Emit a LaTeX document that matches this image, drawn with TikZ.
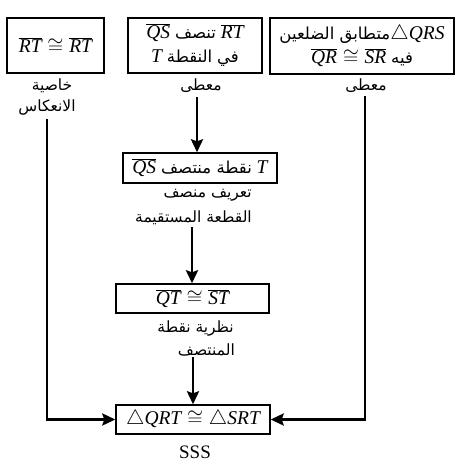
\documentclass[tikz,border=0pt]{standalone}
\usepackage{fontspec}
\setmainfont{Liberation Serif}
\newfontfamily\arfont[Script=Arabic]{DejaVu Sans}
\TeXXeTstate=1
\usetikzlibrary{arrows.meta}
\newcommand\ar[1]{{\fontsize{16.5}{24}\selectfont\arfont\beginR #1\endR}}
\newcommand\sgm[1]{\overline{\mathit{#1}}}
\tikzset{
  box/.style={draw, line width=1.4pt, inner sep=0pt, font=\fontsize{19.5}{25}\selectfont, align=center},
  lbl/.style={inner sep=0pt, font=\fontsize{15.5}{20}\selectfont\arfont},
  arr/.style={line width=2.6pt, -{Stealth[length=13pt,width=12pt,inset=2pt]}}
}
\begin{document}
\begin{tikzpicture}[x=1pt,y=-1pt]
\useasboundingbox (0,0) rectangle (469,461);
% boxes
\node[box, minimum width=97pt, minimum height=55pt] (b1) at (55.5,45.5) {$\sgm{RT}\cong\sgm{RT}$};
\node[box, minimum width=134pt, minimum height=55pt] (b2) at (195,45.5)
  {$\sgm{QS}$ \ar{تنصف} $\sgm{RT}$\\[-1pt] $\mathit{T}$ \ar{النقطة} \ar{في}};
\node[box, minimum width=184pt, minimum height=56pt] (b3) at (362,46)
  {\ar{متطابق الضلعين}$\triangle\mathit{QRS}$\\[-1pt] $\sgm{QR}\cong\sgm{SR}$ \ar{فيه}};
\node[box, minimum width=154pt, minimum height=30pt] (b4) at (200,168)
  {$\sgm{QS}$ \ar{نقطة منتصف} $\mathit{T}$};
\node[box, minimum width=153pt, minimum height=29pt] (b5) at (192.5,298.5)
  {$\sgm{QT}\cong\sgm{ST}$};
\node[box, minimum width=154pt, minimum height=29pt] (b6) at (193,419.5)
  {$\triangle\mathit{QRT}\cong\triangle\mathit{SRT}$};
% labels
\node[lbl] (l1a) at (52,86) {\beginR خاصية\endR};
\node[lbl] (l1b) at (47,108) {\beginR الانعكاس\endR};
\node[lbl] (l2) at (201,86) {\beginR معطى\endR};
\node[lbl] (l3) at (366,86) {\beginR معطى\endR};
\node[lbl, anchor=east] (l4a) at (252,195) {\beginR تعريف منصف\endR};
\node[lbl, anchor=east] (l4b) at (252,218) {\beginR القطعة المستقيمة\endR};
\node[lbl, anchor=east] (l5a) at (234,328) {\beginR نظرية نقطة\endR};
\node[lbl, anchor=east] (l5b) at (235,350) {\beginR المنتصف\endR};
\node[inner sep=0pt, font=\fontsize{19}{20}\selectfont] (l6) at (195,452) {SSS};
% connector start points
\coordinate (s1) at (47,119);
\coordinate (s2) at (197,97);
\coordinate (s3) at (365,96);
\coordinate (s4) at (192,227);
\coordinate (s5) at (193,357);
% connectors
\draw[arr] (s1) |- (b6.west);
\draw[arr] (s3) |- (b6.east);
\draw[arr] (s2) -- (s2 |- b4.north);
\draw[arr] (s4) -- (s4 |- b5.north);
\draw[arr] (s5) -- (s5 |- b6.north);
\end{tikzpicture}
\end{document}
